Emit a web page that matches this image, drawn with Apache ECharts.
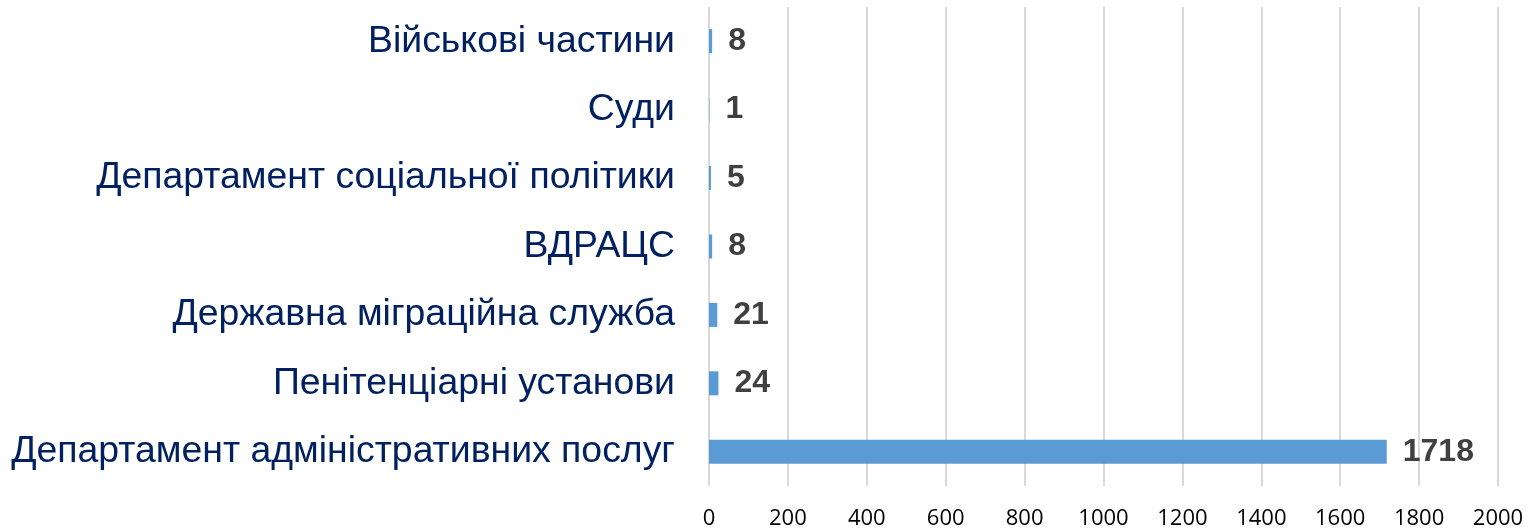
<!DOCTYPE html>
<html>
<head>
<meta charset="utf-8">
<script src="https://cdn.jsdelivr.net/npm/echarts@6/dist/echarts.min.js"></script>
<style>
html, body { margin: 0; padding: 0; background: #fff; }
#chart { width: 1539px; height: 532px; }
</style>
</head>
<body>
<div id="chart"></div>
<script>
// категорії зверху вниз
var categories = [
    'Військові частини',
    'Суди',
    'Департамент соціальної політики',
    'ВДРАЦС',
    'Державна міграційна служба',
    'Пенітенціарні установи',
    'Департамент адміністративних послуг'
];
var values = [8, 1, 5, 8, 21, 24, 1718];

var myChart = echarts.init(document.getElementById('chart'));

option = {
    animation: false,
    grid: { left: 709, right: 41, top: 7, bottom: 46 },
    xAxis: {
        type: 'value',
        min: 0,
        max: 2000,
        interval: 200,
        axisLine: { show: false },
        axisTick: { show: false },
        splitLine: { lineStyle: { color: '#d9d9d9', width: 2 } },
        axisLabel: {
            margin: 22,
            color: '#000',
            fontSize: 22,
            fontFamily: 'Open Sans',
            formatter: function (v) { return String(v); }
        }
    },
    yAxis: {
        type: 'category',
        inverse: true,
        data: categories,
        axisLine: { show: false },
        axisTick: { show: false },
        axisLabel: {
            margin: 34,
            color: '#002060',
            fontSize: 37.4,
            fontFamily: 'Liberation Sans'
        }
    },
    series: [{
        type: 'bar',
        data: values,
        barWidth: 24,
        itemStyle: { color: '#5b9bd5' },
        label: {
            show: true,
            position: 'right',
            distance: 16,
            color: '#404040',
            fontSize: 32,
            fontWeight: 'bold',
            fontFamily: 'Liberation Sans'
        }
    }]
};

myChart.setOption(option);
</script>
</body>
</html>
